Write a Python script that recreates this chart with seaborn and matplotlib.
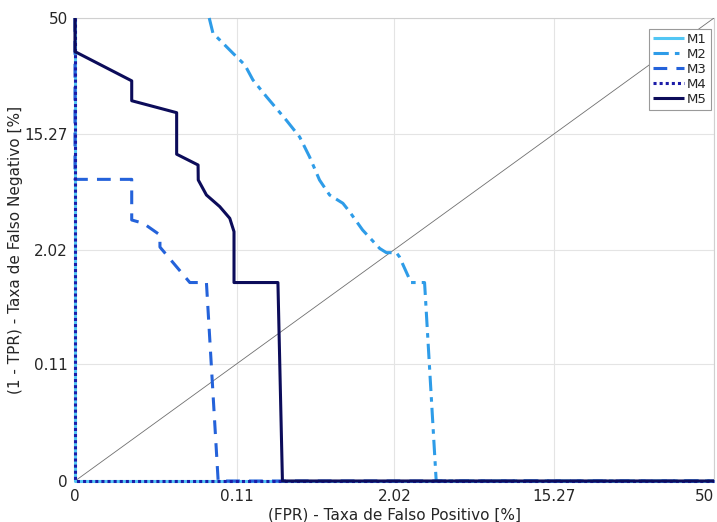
import math
import numpy as np
import pandas as pd
import seaborn as sns
import matplotlib
matplotlib.use("Agg")
import matplotlib.pyplot as plt

# ---------------- data (percent) ----------------
tick_vals = [0, 0.11, 2.02, 15.27, 50]
tick_labels = ["0", "0.11", "2.02", "15.27", "50"]
models = ["M1", "M2", "M3", "M4", "M5"]

m1_fpr = [0, 0, 50]
m1_fnr = [50, 0, 0]

m2_fpr = [0.0603, 0.0656, 0.0762, 0.102, 0.131, 0.155, 0.205, 0.304, 0.394, 0.474,
          0.570, 0.684, 0.865, 0.971, 1.21, 1.60, 1.78, 2.08, 2.18, 2.60, 3.17, 3.74, 50]
m2_fnr = [50, 44.6, 42.3, 37.7, 33.9, 29.2, 24.3, 18.3, 14.6, 10.97,
          7.58, 5.86, 5.05, 4.32, 3.03, 2.07, 1.89, 1.89, 1.73, 0.96, 0.96, 0, 0]

m3_fpr = [0, 0, 0.0094, 0.0094, 0.0126, 0.0190, 0.0190, 0.0387, 0.0566, 0.0736, 50]
m3_fnr = [50, 7.66, 7.66, 3.69, 3.46, 2.74, 2.13, 0.96, 0.96, 0, 0]

m4_fpr = [0, 0, 50]
m4_fnr = [50, 0, 0]

m5_fpr = [0, 0, 0.0094, 0.0094, 0.0284, 0.0284, 0.0468, 0.0470, 0.0566, 0.0762,
          0.0949, 0.104, 0.104, 0.258, 0.282, 50]
m5_fnr = [50, 38.3, 28.9, 23.2, 20.1, 11.4, 9.66, 7.58, 5.86, 4.75,
          3.81, 2.93, 0.96, 0.96, 0, 0]

diag = [0, 50]

series = [(m1_fpr, m1_fnr), (m2_fpr, m2_fnr), (m3_fpr, m3_fnr),
          (m4_fpr, m4_fnr), (m5_fpr, m5_fnr)]
colors = ["#52C6F4", "#2E9CE8", "#2462DA", "#1C1CA8", "#0C0C5A"]
styles = ["-", (0, (5, 2, 1.5, 2)), (0, (4.5, 3)), (0, (1, 1)), "-"]
widths = [2.2, 2.2, 2.2, 2.2, 2.2]

# ---------------- normal-deviate (DET) scale ----------------
S = 1.0246
_zg = np.linspace(-9, 9, 90001)
_erf = np.vectorize(math.erf)
_cg = 0.5 * (1 + _erf(_zg / math.sqrt(2)))
P_MIN = 0.5 * math.erfc(4 * S / math.sqrt(2))


def fwd(v):
    p = np.clip(np.asarray(v, dtype=float) / 100.0, P_MIN, 0.999999)
    return np.interp(p, _cg, _zg) / S


def inv(t):
    t = np.asarray(t, dtype=float)
    return 100.0 * 0.5 * (1 + _erf(t * S / math.sqrt(2)))


sns.set_style("white")
plt.rcParams["font.family"] = ["DejaVu Sans"]

fig = plt.figure(figsize=(7.17, 5.22), dpi=100)
ax = fig.add_axes([75 / 717, 1 - 481 / 522, (714 - 75) / 717, (481 - 18) / 522])
ax.set_xscale("function", functions=(fwd, inv))
ax.set_yscale("function", functions=(fwd, inv))

# diagonal reference
sns.lineplot(x=diag, y=diag, ax=ax, color="#6f6f6f", linewidth=0.6,
             estimator=None, sort=False, legend=False, zorder=2)

for i, (name, (fx, fy), c, ls, lw) in enumerate(zip(models, series, colors, styles, widths)):
    df = pd.DataFrame({"fpr": fx, "fnr": fy})
    sns.lineplot(data=df, x="fpr", y="fnr", ax=ax, color=c, linestyle=ls,
                 linewidth=lw, estimator=None, sort=False, label=name,
                 solid_capstyle="butt", dash_capstyle="butt", clip_on=False,
                 zorder=3 + i * 0.1)

ax.set_xlim(0, 50)
ax.set_ylim(0, 50)
ax.set_xticks(tick_vals)
ax.set_xticklabels(tick_labels)
ax.set_yticks(tick_vals)
ax.set_yticklabels(tick_labels)
ax.xaxis.set_minor_locator(matplotlib.ticker.NullLocator())
ax.yaxis.set_minor_locator(matplotlib.ticker.NullLocator())
ax.grid(True, color="#e4e4e4", linewidth=0.8)
ax.set_axisbelow(True)
for sp in ax.spines.values():
    sp.set_color("#d0d0d0")
    sp.set_linewidth(0.8)
    sp.set_zorder(1)
ax.tick_params(axis="both", labelsize=11, colors="#262626", length=3,
               direction="in")
ax.tick_params(axis="both", color="#bbbbbb")
ax.tick_params(axis="y", pad=5)
ax.tick_params(axis="x", pad=6)
ax.get_xticklabels()[-1].set_horizontalalignment("right")

ax.set_xlabel("(FPR) - Taxa de Falso Positivo [%]", fontsize=11, color="#262626")
ax.set_ylabel("(1 - TPR) - Taxa de Falso Negativo [%]", fontsize=11, color="#262626")
ax.xaxis.set_label_coords(0.5, (481 - 515) / 463, transform=ax.transAxes)
ax.xaxis.label.set_verticalalignment("center")
ax.yaxis.set_label_coords((16 - 75) / 639, 0.5, transform=ax.transAxes)
ax.yaxis.label.set_verticalalignment("center")

leg = ax.legend(loc="upper right", bbox_to_anchor=(0.995, 0.976), borderaxespad=0,
                fontsize=9.5, frameon=True, fancybox=False, framealpha=1,
                edgecolor="#9a9a9a", handlelength=2.4, handletextpad=0.2,
                labelspacing=0.15, borderpad=0.3)
leg.set_zorder(10)
leg.get_frame().set_linewidth(0.8)
for t in leg.get_texts():
    t.set_color("#262626")

fig.savefig("out.png", dpi=100)
